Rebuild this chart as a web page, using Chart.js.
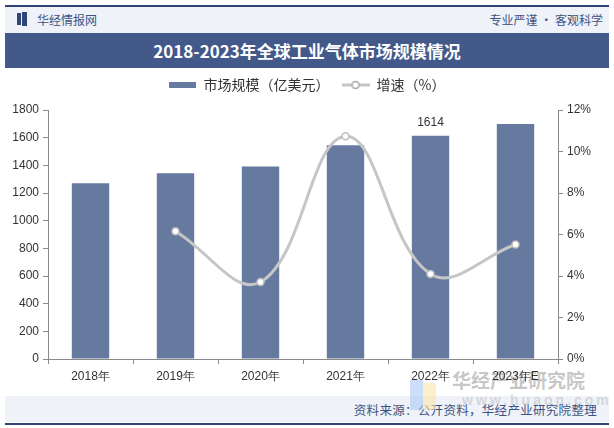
<!DOCTYPE html>
<html>
<head>
<meta charset="utf-8">
<script src="https://cdn.jsdelivr.net/npm/chart.js@4/dist/chart.umd.min.js"></script>
<style>
  body { margin: 0; width: 614px; height: 428px; position: relative; background: #fff; overflow: hidden;
         font-family: "Liberation Sans", "Noto Sans CJK SC", sans-serif; }
  .bar { position: absolute; left: 5px; width: 604px; }
  #topline, #botline { height: 2px; background: #2f4375; }
  #topline { top: 5px; }
  #botline { top: 423px; }
  #head { top: 7px; height: 26px; background: #eff2f8; }
  #title { top: 33px; height: 35px; background: #43598a; color: #fff; text-align: center;
           font: bold 17px/35px "Noto Sans CJK SC", serif; }
  #foot { top: 396px; height: 26px; background: #eff2f8; }
  .logo { position: absolute; left: 12px; top: 6px; width: 4px; height: 12px; background: #2f4577; }
  .logo2 { position: absolute; left: 17px; top: 5px; width: 5px; height: 14px; background: #2f4577; }
  .site { position: absolute; left: 32px; top: 4px; font: 12px "Noto Sans CJK SC"; color: #3d5283; }
  .slogan { position: absolute; right: 6px; top: 4px; font: 12px "Noto Sans CJK SC"; color: #3d5283; }
  .src { position: absolute; right: 12px; top: 4px; font: 12.5px "Noto Sans CJK SC"; color: #3d5283; letter-spacing: 0.3px; }
  #wmb { position: absolute; left: 410px; top: 380px; width: 13px; height: 30px; background: rgba(170,200,245,0.6); }
  #wmy { position: absolute; left: 423px; top: 383px; width: 13px; height: 27px; background: rgba(250,230,170,0.6); }
  #wm { position: absolute; left: 452px; top: 366px; font: bold 19px "Noto Sans CJK SC"; color: rgba(150,150,150,0.55); }
  #wm2 { position: absolute; left: 462px; top: 392px; font: bold 14px "Liberation Sans"; color: rgba(160,160,160,0.35); letter-spacing: 3px; }
  canvas { position: absolute; left: 0; top: 0; }
</style>
</head>
<body>
<div id="topline" class="bar"></div>
<div id="head" class="bar"><div class="logo"></div><div class="logo2"></div><span class="site">华经情报网</span><span class="slogan">专业严谨 • 客观科学</span></div>
<div id="title" class="bar">2018-2023年全球工业气体市场规模情况</div>
<div id="foot" class="bar"><span class="src">资料来源：公开资料，华经产业研究院整理</span></div>
<div id="botline" class="bar"></div>
<div id="wmb"></div><div id="wmy"></div>
<div id="wm">华经产业研究院</div>
<div id="wm2">www.huaon.com</div>
<canvas id="myChart" width="614" height="428"></canvas>
<script>
const years = ['2018年', '2019年', '2020年', '2021年', '2022年', '2023年E'];
const marketSize = [1270, 1343, 1392, 1545, 1614, 1698];
const growth = [null, 6.16, 3.71, 10.74, 4.10, 5.52];
const labeledYear = '2022年';

const barColor = '#667aa0';
const lineColor = '#c6c6c6';

function barIcon() {
    let c = document.createElement('canvas');
    c.width = 27; c.height = 6;
    let ctx = c.getContext('2d');
    ctx.fillStyle = barColor;
    ctx.fillRect(0, 0, 27, 6);
    return c;
}
function lineIcon() {
    let c = document.createElement('canvas');
    c.width = 28; c.height = 10;
    let ctx = c.getContext('2d');
    ctx.strokeStyle = lineColor;
    ctx.lineWidth = 3;
    ctx.beginPath(); ctx.moveTo(0, 5); ctx.lineTo(28, 5); ctx.stroke();
    ctx.fillStyle = '#fff';
    ctx.lineWidth = 1.5;
    ctx.strokeStyle = '#a8a8a8';
    ctx.beginPath(); ctx.arc(14, 5, 3.5, 0, Math.PI * 2); ctx.fill(); ctx.stroke();
    return c;
}

// legend box keeps the plot top at the same place as the picture
const legendSpace = {
    id: 'legendSpace',
    afterInit(chart) {
        const fit = chart.legend.fit;
        chart.legend.fit = function () {
            fit.call(this);
            this.height = 44;
        };
    }
};

const valueLabel = {
    id: 'valueLabel',
    afterDatasetsDraw(chart) {
        let ctx = chart.ctx;
        let meta = chart.getDatasetMeta(0);
        let i = years.indexOf(labeledYear);
        let bar = meta.data[i];
        ctx.save();
        ctx.font = '12px "Liberation Sans"';
        ctx.fillStyle = '#333';
        ctx.textAlign = 'center';
        ctx.textBaseline = 'bottom';
        ctx.fillText(String(marketSize[i]), bar.x, bar.y - 7);
        ctx.restore();
    }
};

const axisColor = '#8a8a8a';
const tickFont = { family: '"Liberation Sans"', size: 12 };

new Chart(document.getElementById('myChart'), {
    type: 'bar',
    data: {
        labels: years,
        datasets: [{
            label: '市场规模（亿美元）',
            data: marketSize,
            backgroundColor: barColor,
            barPercentage: 0.44,
            categoryPercentage: 1,
            yAxisID: 'y',
            order: 2
        }, {
            type: 'line',
            label: '增速（%）',
            data: growth,
            borderColor: lineColor,
            borderWidth: 3,
            tension: 0.4,
            pointRadius: 3.5,
            pointBackgroundColor: '#fff',
            pointBorderColor: '#bdbdbd',
            pointBorderWidth: 1.5,
            yAxisID: 'y1',
            order: 1
        }]
    },
    options: {
        responsive: false,
        animation: false,
        layout: { padding: { top: 66, bottom: 0, left: 0, right: 0 } },
        plugins: {
            tooltip: { enabled: false },
            legend: {
                position: 'top',
                labels: {
                    usePointStyle: true,
                    pointStyleWidth: 28,
                    padding: 12,
                    color: '#333',
                    font: { family: '"Noto Sans CJK SC"', size: 14 },
                    generateLabels(chart) {
                        return chart.data.datasets.map((ds, i) => ({
                            text: ds.label,
                            pointStyle: i === 0 ? barIcon() : lineIcon(),
                            fontColor: '#333',
                            lineWidth: 0,
                            datasetIndex: i
                        }));
                    }
                }
            }
        },
        scales: {
            x: {
                offset: true,
                grid: { display: true, drawOnChartArea: false, offset: true, tickLength: 5, color: axisColor },
                border: { color: axisColor },
                ticks: { color: '#333', font: tickFont, padding: 5 },
                afterFit(scale) { scale.height = 69; }
            },
            y: {
                position: 'left',
                min: 0, max: 1800,
                grid: { drawOnChartArea: false, tickLength: 5, color: axisColor },
                border: { color: axisColor },
                ticks: { stepSize: 200, color: '#333', font: tickFont, padding: 4, callback: v => String(v) },
                afterFit(scale) { scale.width = 48; }
            },
            y1: {
                position: 'right',
                min: 0, max: 12,
                grid: { drawOnChartArea: false, tickLength: 5, color: axisColor },
                border: { color: axisColor },
                ticks: { stepSize: 2, color: '#333', font: tickFont, padding: 4, callback: v => v + '%' },
                afterFit(scale) { scale.width = 56; }
            }
        }
    },
    plugins: [valueLabel, legendSpace]
});
</script>
</body>
</html>
